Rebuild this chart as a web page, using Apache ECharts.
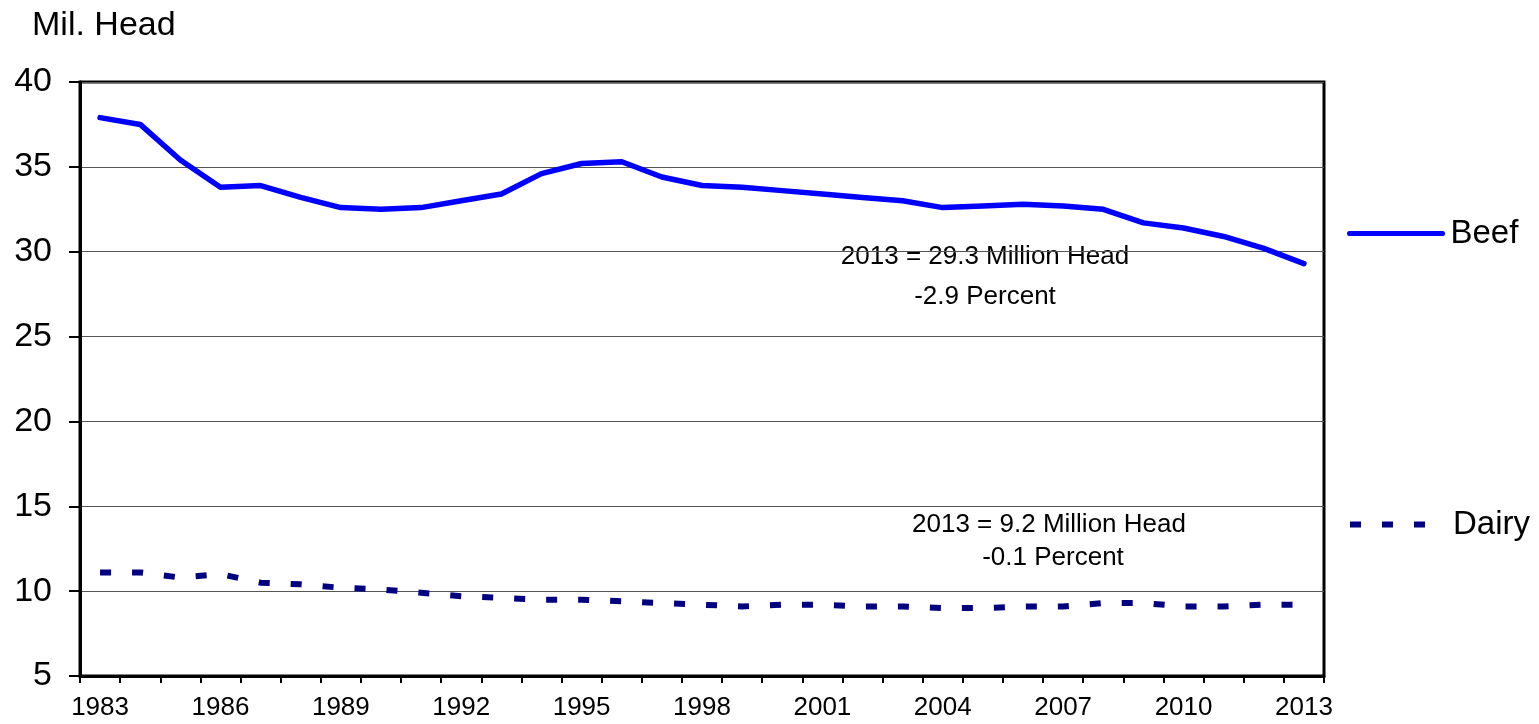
<!DOCTYPE html>
<html>
<head>
<meta charset="utf-8">
<script src="https://cdn.jsdelivr.net/npm/echarts@6/dist/echarts.min.js"></script>
<style>
  html, body { margin: 0; padding: 0; background: #fff; }
  #chart { width: 1539px; height: 724px; }
</style>
</head>
<body>
<div id="chart"></div>
<script>
var years = ['1983','1984','1985','1986','1987','1988','1989','1990','1991','1992','1993','1994','1995','1996','1997',
    '1998','1999','2000','2001','2002','2003','2004','2005','2006','2007','2008','2009','2010','2011','2012','2013'];

var beef = [37.9, 37.5, 35.4, 33.8, 33.9, 33.2, 32.6, 32.5, 32.6, 33.0, 33.4, 34.6, 35.2, 35.3, 34.4,
    33.9, 33.8, 33.6, 33.4, 33.2, 33.0, 32.6, 32.7, 32.8, 32.7, 32.5, 31.7, 31.4, 30.9, 30.2, 29.3];

var dairy = [11.1, 11.1, 10.8, 11.0, 10.5, 10.4, 10.2, 10.1, 9.9, 9.7, 9.6, 9.5, 9.5, 9.4, 9.3,
    9.2, 9.1, 9.2, 9.2, 9.1, 9.1, 9.0, 9.0, 9.1, 9.1, 9.3, 9.3, 9.1, 9.1, 9.2, 9.2];

var yTicks = { min: 5, max: 40, step: 5 };

var notes = [
    ['2013 = 29.3 Million Head', 985, 257],
    ['-2.9 Percent', 985, 297],
    ['2013 = 9.2 Million Head', 1049, 525],
    ['-0.1 Percent', 1053, 558]
];

var font = '"Liberation Sans", Arial, sans-serif';

var chart = echarts.init(document.getElementById('chart'));

var option = {
    animation: false,
    backgroundColor: '#fff',
    title: {
        text: 'Mil. Head',
        left: 32,
        top: 9,
        padding: 0,
        textStyle: { fontFamily: font, fontSize: 34, fontWeight: 'normal', color: '#000' }
    },
    grid: {
        left: 80, right: 215, top: 82, bottom: 48,
        show: true,
        borderColor: '#000',
        borderWidth: 3
    },
    legend: [{
        data: ['Beef'],
        left: 1347,
        top: 217,
        padding: 0,
        itemWidth: 93,
        itemHeight: 14,
        itemStyle: { opacity: 0 },
        lineStyle: { width: 5 },
        textStyle: { fontFamily: font, fontSize: 33, color: '#000', padding: [0, 0, 0, 3] }
    }, {
        data: ['Dairy'],
        left: 1347,
        top: 508,
        padding: 0,
        itemWidth: 90,
        itemHeight: 14,
        itemStyle: { opacity: 0 },
        lineStyle: { width: 6 },
        textStyle: { fontFamily: font, fontSize: 33, color: '#000', padding: [0, 0, 0, 8] }
    }],
    xAxis: {
        type: 'category',
        data: years,
        boundaryGap: true,
        axisLine: { lineStyle: { color: '#000', width: 3 } },
        axisTick: { show: true, interval: 0, length: 7, lineStyle: { color: '#000', width: 2 } },
        axisLabel: { interval: 2, margin: 19, fontFamily: font, fontSize: 26, color: '#000' },
        splitLine: { show: false }
    },
    yAxis: {
        type: 'value',
        min: yTicks.min,
        max: yTicks.max,
        interval: yTicks.step,
        axisLine: { show: true, lineStyle: { color: '#000', width: 3 } },
        axisTick: { show: true, length: 11, lineStyle: { color: '#000', width: 2 } },
        axisLabel: { margin: 28, fontFamily: font, fontSize: 34, color: '#000' },
        splitLine: { show: true, lineStyle: { color: '#555', width: 1 } }
    },
    series: [{
        name: 'Beef',
        type: 'line',
        data: beef,
        symbol: 'none',
        lineStyle: { color: '#0000ff', width: 5.5, cap: 'round', join: 'round' },
        itemStyle: { color: '#0000ff' }
    }, {
        name: 'Dairy',
        type: 'line',
        data: dairy,
        symbol: 'none',
        lineStyle: { color: '#000080', width: 6, type: [11, 21], cap: 'butt' },
        itemStyle: { color: '#000080' }
    }],
    graphic: notes.map(function (n) {
        return {
            type: 'text', x: n[1], y: n[2],
            style: { text: n[0], font: '26px ' + font, fill: '#000', align: 'center', verticalAlign: 'middle' }
        };
    })
};

chart.setOption(option);
</script>
</body>
</html>
